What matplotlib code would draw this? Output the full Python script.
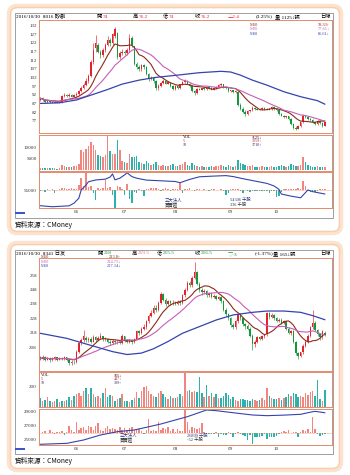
import matplotlib
matplotlib.use("Agg")
import matplotlib.pyplot as plt
from matplotlib.patches import FancyBboxPatch, Rectangle
import numpy as np
import pandas as pd

plt.rcParams['font.family'] = ['Liberation Serif', 'Noto Sans CJK TC', 'DejaVu Sans']

W, H = 350, 475
UP, DN = '#e3232b', '#16963a'
VUP, VDN = '#f3857f', '#2ab2ab'
C10, C20, C60 = '#8c2b18', '#c65fb6', '#3444ad'
EDGE = '#e48c6e'
NAVY = '#23307a'
PINK = '#e0707e'

months = ['06', '07', '08', '09', '10']
month_idx = [15, 35, 56, 79, 98]

# ---------------- 8016 矽創 ----------------
a_open = [89, 90, 89, 88, 88.5, 88, 87.5, 88, 87.5, 88,
          91.5, 92, 91.5, 92, 91, 92, 92.5, 94, 96, 97.5,
          100, 103, 111, 119, 121, 117, 115, 118, 121, 124,
          122, 126, 128, 114, 116, 117, 116, 118, 125, 120,
          110, 108, 107, 109, 108, 104, 101, 102, 100, 96,
          97, 99, 100, 98.5, 99, 97, 95.5, 97, 96, 98,
          99.5, 100, 98.5, 97, 94, 93, 95.5, 95, 96, 95.5,
          96.5, 96, 95, 96, 96.5, 97.5, 98, 96.5, 96, 94,
          94.5, 93.5, 93.5, 86, 84, 82, 81, 82.5, 83, 84.5,
          84, 83.5, 84, 84.5, 84, 83.5, 84, 85, 84, 83,
          81, 80, 79, 79.5, 78, 75, 73, 72.5, 74, 76,
          80, 79, 78, 77.5, 76, 75, 77, 75.5, 74]
a_close = [90, 89, 88, 88.5, 88, 87.5, 88, 87.5, 88, 91.5,
           92, 91.5, 92, 91, 92, 92.5, 94, 96, 97.5, 100,
           103, 111, 118, 122, 117, 115, 118, 121, 124, 122,
           127, 130, 114, 116, 117, 116, 118, 125, 121, 110,
           108, 107, 109, 108, 104, 101, 102, 100, 96, 97,
           99, 100, 98.5, 99.5, 97, 95.5, 97, 96, 98, 99.5,
           100, 98.5, 97, 94, 93, 95.5, 95, 96, 95.5, 96.5,
           96, 95, 96, 96.5, 97.5, 98, 96.5, 96, 94, 94.5,
           93.5, 94, 86, 84, 82, 81, 82.5, 83, 84.5, 84,
           83.5, 84, 84.5, 84, 83.5, 84, 85, 84, 83, 81,
           80, 79, 79.5, 78, 75, 73, 72.5, 74, 76, 80,
           79, 78, 77.5, 76, 75, 77, 75.5, 73.8, 76.2]
a_high = [90.5, 90.5, 89.5, 89, 89, 88.5, 88.5, 88.5, 88.5, 92,
          93, 92.5, 93, 92.5, 92.5, 93.5, 95, 97, 99, 101.5,
          104, 112, 122, 126.5, 122, 118, 119, 122, 126, 125,
          128, 131.5, 128.5, 117.5, 118.5, 118, 119, 127, 126, 120.5,
          111, 109, 110, 110, 108.5, 104.5, 103, 102.5, 100.5, 98,
          99.5, 101, 100.5, 100, 99.5, 97.5, 97.5, 97.5, 98.5, 100,
          101, 100.5, 99, 97.5, 94.5, 96, 96, 96.5, 96.5, 97,
          97, 96.5, 96.5, 97, 98, 99, 98.5, 97, 96.5, 95,
          95, 94.5, 94, 87, 85, 83, 83, 83.5, 85.5, 85,
          84.5, 84.5, 85, 85, 84.5, 84.5, 85.5, 85.5, 84.5, 83.5,
          81.5, 80.5, 80, 80, 78.5, 75.5, 74, 74.5, 76.5, 81,
          80.5, 79.5, 78.5, 78, 76.5, 77.5, 77.5, 76, 76.2]
a_low = [88.5, 88.5, 87.5, 87.5, 87.5, 87, 87, 87, 87, 87.5,
         91, 91, 91, 90.5, 90.5, 91.5, 92, 93.5, 95.5, 97,
         99, 102.5, 110, 117, 116, 113.5, 114, 117, 120, 120.5,
         121, 125, 113, 113, 115, 115, 115, 117, 119.5, 109,
         107, 105.5, 106, 107, 103.5, 100, 100.5, 99, 95, 95,
         96.5, 98.5, 98, 98, 96.5, 94.5, 95, 95.5, 95.5, 97.5,
         99, 98, 96.5, 93.5, 92, 92.5, 94.5, 94.5, 95, 95,
         95.5, 94.5, 94.5, 95.5, 96, 97, 96, 95.5, 93.5, 93.5,
         93, 93, 85.5, 83, 81.5, 80, 80.5, 82, 82.5, 83.5,
         83, 83, 83.5, 83.5, 83, 83, 83.5, 83.5, 82.5, 80.5,
         79.5, 78.5, 78.5, 77.5, 74.5, 72, 71.5, 72, 73.5, 75.5,
         78.5, 77.5, 77, 75.5, 74.5, 74.5, 75, 73.5, 74]
a_ma60_idx = [0, 8, 15, 21, 28, 34, 41, 48, 57, 66, 75, 79, 83, 88, 94, 101, 108, 115, 118]
a_ma60 = [87.0, 87.4, 89.0, 91.8, 95.1, 98.2, 100.5, 102.1, 103.4, 104.8,
          105.6, 105.2, 103.4, 100.5, 97.6, 93.8, 90.9, 88.6, 86.6]
a_vol = [800, 600, 500, 700, 500, 600, 500, 400, 600, 2200,
         1500, 1200, 1300, 1000, 1400, 1600, 2500, 8800, 8000, 9500,
         10500, 12500, 11000, 9000, 6500, 6000, 5500, 6500, 15000, 8500,
         7000, 7000, 13500, 9000, 4000, 3500, 3000, 7000, 5500, 5500,
         6000, 3500, 3000, 2500, 4000, 3000, 2000, 2500, 3500, 2000,
         1800, 2000, 1500, 1800, 2200, 2500, 1800, 1500, 2000, 2500,
         3500, 2000, 1800, 3000, 2000, 1500, 1200, 1500, 1000, 1300,
         1100, 1400, 1200, 1500, 1800, 2000, 1500, 1300, 2000, 1500,
         1200, 1400, 4500, 3000, 2500, 2000, 1800, 1500, 2000, 1300,
         1200, 1000, 1400, 1200, 1000, 1300, 1500, 1200, 1000, 1800,
         2000, 1500, 1200, 1400, 2500, 2200, 1800, 1500, 2000, 5800,
         3500, 2000, 1500, 1300, 1200, 1600, 1300, 1100, 1125]
a_net = [-600, 200, -800, 300, 100, 600, -1500, 200, 300, 800,
         1200, 400, 600, 1000, 300, 500, 2500, 5800, 2000, 8700,
         1500, 2200, -1500, -5000, 1200, 600, 800, 5000, 1000, 1500,
         -2500, -8800, 1800, 1600, 500, -2500, 3000, -4500, -6700, -800,
         -1500, 400, -600, -3000, 300, 500, 800, 1000, 1100, 400,
         -300, 600, 800, 500, -400, 700, 300, 600, 3300, -1300,
         400, 300, 900, 200, -400, 500, 300, -200, 400, 200,
         -300, 300, 500, -200, 100, 300, -600, -2500, -1300, 600,
         700, 400, 300, -700, -1700, 200, -500, -800, -600, -400,
         -700, -300, -600, -500, -400, -1300, -500, -600, -3700, -2800,
         -800, 400, 600, 700, 500, 600, 300, 800, 500, 4700,
         1800, -400, -800, -900, -1000, -700, 300, 400, 336]
a_hold_idx = [0, 5, 12, 14, 16, 17, 19, 20, 23, 27, 29, 30, 31, 33, 35, 36, 38, 40, 44, 50,
              56, 58, 62, 66, 72, 77, 80, 84, 90, 94, 97, 99, 100, 104, 108, 109, 111, 113, 118]
a_hold = [49350, 48900, 49300, 50400, 52500, 56000, 58100, 59500, 60250, 60600,
          61500, 62800, 60300, 61000, 62400, 63300, 61700, 61000, 60200, 59900,
          59600, 59100, 60500, 61600, 61900, 62100, 61700, 60800, 59600, 58800,
          57700, 56300, 54300, 53400, 52700, 53800, 56000, 55300, 54300]
a_header = [(16, '2016/10/30  8016 矽創', 'k'), (97, '開', 'k'), (103, '74', UP),
            (133, '高', 'k'), (139, '76.2', UP), (163, '低', 'k'), (169, '74', UP),
            (195, '收', 'k'), (201, '76.2', UP), (228, '△2.4', UP),
            (256, '(3.25%)', 'k'), (275, '量 1125↓張', 'k')]
a_ma_text = ['78.33↑', '77.61↓', '86.61↓']
a_vol_text = ['1125↓', '3059↑', '1710↑']
a_inst_text = ['54306 千股', '336 千股']

# ---------------- 8341 日友 ----------------
b_open = [201, 200, 201.5, 199.5, 200.5, 199, 200, 201, 199.5, 200.5,
          200, 201, 199.5, 197, 198, 197.5, 205, 211, 213, 214.5,
          213, 214, 212, 215, 213, 214.5, 215.5, 213.5, 214, 212,
          211, 212.5, 211.5, 212, 211, 215.5, 213, 212, 213, 211.5,
          213.5, 219, 218, 221, 222, 226, 230, 232, 235.5, 234,
          239, 245, 241, 238, 240, 238.5, 239, 238, 239.5, 238.5,
          244, 248, 252.5, 251, 256, 260, 252, 248, 246, 247,
          244, 245.5, 243, 243.5, 241.5, 242.5, 240, 234, 231, 228,
          223.5, 222, 226, 231, 228, 224, 222.5, 221, 216, 210,
          212, 215, 214, 215.5, 217, 231.5, 229, 230.5, 228, 226.5,
          227, 225, 226, 221, 218, 219, 212, 204, 202, 204.5,
          209, 212, 216, 222, 225, 220, 217, 215, 218]
b_close = [200, 201.5, 199.5, 200.5, 199, 200, 201, 199.5, 200.5, 200,
           201, 199.5, 197, 198, 197.5, 205, 211, 213, 215.5, 213,
           214, 212, 215, 213, 214.5, 215.5, 213.5, 214, 212, 211,
           212.5, 211.5, 212, 211, 216, 213, 212, 213, 211.5, 213.5,
           219, 218, 221, 222, 226, 230, 232, 235.5, 234, 239,
           245, 241, 238, 240, 238.5, 239, 238, 239.5, 238.5, 244,
           248, 252.5, 251, 256, 260, 252, 248, 246, 247, 244,
           245.5, 243, 243.5, 241.5, 242.5, 240, 234, 231, 228, 223.5,
           222, 226, 231, 228, 224, 222.5, 221, 216, 210, 212,
           215, 214, 215.5, 216.5, 231.5, 229, 230.5, 228, 226.5, 227,
           225, 226, 221, 218, 219, 212, 204, 202, 204.5, 209,
           212, 216, 222, 225, 220, 217, 215, 219.5, 216.5]
b_high = [202, 202.5, 202, 201.5, 201, 201, 202, 201.5, 201.5, 201.5,
          202, 201.5, 200, 199, 199, 206, 212, 214.5, 220, 216,
          215, 215, 216.5, 216, 215.5, 218, 216, 215, 214.5, 213,
          213.5, 213, 213, 213, 217, 216, 214, 214, 214, 214.5,
          220, 220, 222, 224, 227, 231, 233.5, 237, 237, 240,
          246.5, 245.5, 242, 241, 241, 240.5, 240, 241, 241, 245,
          249, 254, 254, 257, 267, 261, 253, 249, 248.5, 248,
          246.5, 246, 245, 244.5, 243.5, 243.5, 241, 235, 232, 229,
          225, 227, 232, 232, 229, 225, 224, 222, 217, 213,
          216, 216, 216.5, 217.5, 232.5, 232.5, 231.5, 231, 229, 228,
          228, 227, 226.5, 222, 220, 220, 212.5, 205, 205, 210,
          213, 217, 223, 234, 226, 221, 218, 220, 219.5]
b_low = [199, 199.5, 198.5, 199, 198, 198.5, 199.5, 198.5, 199, 199,
         199, 198.5, 195.5, 196, 196.5, 197, 204, 209.5, 212, 212,
         212, 211, 211.5, 212, 212.5, 213.5, 212.5, 212.5, 211, 209.5,
         210, 210.5, 210.5, 210, 210.5, 212, 211, 211, 210.5, 211,
         213, 216.5, 217, 220, 221, 225, 229, 231, 232.5, 233,
         238, 240, 236.5, 237, 237.5, 237.5, 237, 237, 237.5, 238,
         243, 247, 249.5, 250, 255, 251, 246, 244.5, 245, 243,
         243, 242, 242, 240.5, 240.5, 239, 233, 230, 227, 222,
         221, 221, 225, 227, 223, 221, 220, 215, 206, 208,
         211, 213, 213, 214.5, 216, 227.5, 228, 227, 225.5, 225.5,
         224, 224, 220, 217, 216.5, 211, 203, 200, 201, 203.5,
         208, 211, 215, 221, 219, 216, 213, 214, 215.5]
b_ma60_idx = [0, 11, 18, 25, 30, 36, 42, 47, 53, 59, 66, 73, 80, 88, 94, 101, 108, 113, 118]
b_ma60 = [217.7, 214.2, 210.8, 207.4, 205.0, 203.0, 204.0, 207.0, 212.0, 217.7,
          222.3, 226.9, 230.4, 232.2, 233.1, 233.1, 232.2, 229.9, 227.1]
b_vol = [85, 60, 70, 95, 55, 50, 60, 80, 45, 55,
         60, 70, 95, 65, 110, 120, 130, 110, 150, 185,
         120, 180, 120, 100, 110, 85, 130, 185, 95, 115,
         110, 60, 75, 90, 120, 60, 55, 50, 70, 90,
         140, 85, 150, 190, 205, 150, 120, 110, 95, 130,
         150, 120, 100, 80, 110, 90, 85, 100, 120, 110,
         330, 150, 160, 140, 150, 145, 290, 130, 100, 210,
         110, 130, 95, 120, 85, 90, 110, 130, 115, 80,
         95, 70, 60, 75, 80, 65, 70, 60, 80, 70,
         60, 65, 90, 70, 185, 110, 90, 80, 75, 90,
         70, 85, 95, 120, 110, 130, 120, 100, 110, 95,
         130, 115, 140, 150, 110, 260, 75, 60, 165]
b_net = [0, 40, 100, -30, 130, 20, -70, 30, 60, 100,
         -120, 40, 330, 130, 60, 550, 120, 220, 270, 150,
         330, 300, 120, 330, 500, 150, 90, 220, 330, 180,
         250, 200, 130, 300, 160, 220, 140, 250, 300, 120,
         180, 170, 90, -50, 120, 670, 100, 120, 90, 550,
         150, 220, 200, 270, 80, 170, 60, 170, 90, 100,
         1130, 550, 150, 300, 230, 170, 250, 470, 40, -70,
         -60, -80, -70, 30, -230, -40, -90, -120, 20, -60,
         -200, -40, 30, -70, -90, -160, -370, -100, -570, -230,
         -200, -230, -180, -60, -330, -230, -200, -230, -150, -50,
         60, 100, 40, 130, -30, 50, 30, -230, 60, 130,
         80, 170, 60, 800, 170, -40, -170, -100, -52]
b_hold_idx = [0, 11, 18, 25, 32, 39, 44, 50, 55, 61, 65, 69, 73, 80, 88, 94, 101, 108, 113, 114, 118]
b_hold = [24240, 24380, 24870, 25600, 26080, 26330, 26720, 27200, 27690, 28270,
          28760, 29250, 29150, 28850, 28520, 28420, 28500, 28620, 29000, 29050, 28850]
b_header = [(16, '2016/10/30  8341 日友', 'k'), (98, '開', 'k'), (104, '218', DN),
            (132, '高', 'k'), (138, '219.5', PINK), (157, '低', 'k'), (163, '215.5', DN),
            (195, '收', 'k'), (201, '216.5', DN), (228, '▽-3', DN),
            (255, '(-1.37%)', 'k'), (273, '量 165↓張', 'k')]
b_ma_text = ['213.8↑', '214.75↓', '227.14↓']
b_vol_text = ['165↓', '447↓', '389↑']
b_inst_text = ['26899 千股', '-52 千股']

fig = plt.figure(figsize=(W / 100, H / 100), dpi=100)
bg = fig.add_axes([0, 0, 1, 1])
bg.set_xlim(0, W)
bg.set_ylim(H, 0)
bg.axis('off')


def rect(x0, y0, x1, y1):
    return [x0 / W, 1 - y1 / H, (x1 - x0) / W, (y1 - y0) / H]


def style_spines(ax):
    for s in ax.spines.values():
        s.set_color(EDGE)
        s.set_linewidth(0.7)


def new_panel(y0, y1):
    ax = fig.add_axes(rect(39, y0, 332, y1))
    ax.set_facecolor('none')
    ax.set_xlim(-0.5, 121)
    ax.set_xticks([])
    style_spines(ax)
    ax.tick_params(axis='y', length=0, pad=1.5, labelsize=3.6, colors='#333333')
    return ax


def draw_chart(rows, o, h, l, c, ma_i, ma_v, vol, net, hold_i, hold_v,
               plim, pticks, vlim, vticks, nlim, hlim, hticks):
    (p0, p1), (v0, v1), (n0, n1) = rows
    o, h, l, c = (np.asarray(a, dtype=float) for a in (o, h, l, c))
    x = np.arange(len(c))
    up = c >= o
    col = np.where(up, UP, DN)

    ax = new_panel(p0, p1)
    ax.vlines(x, l, h, colors=col, lw=0.45)
    ax.bar(x, np.maximum(np.abs(c - o), (plim[1] - plim[0]) * 0.005),
           bottom=np.minimum(o, c), width=0.62, color=col, lw=0)
    close = pd.Series(c)
    ax.plot(x, close.rolling(10, min_periods=1).mean(), color=C10, lw=0.8)
    ax.plot(x, close.rolling(20, min_periods=1).mean(), color=C20, lw=0.8)
    ax.plot(ma_i, ma_v, color=C60, lw=0.9)
    ax.set_ylim(plim)
    ax.set_yticks(pticks, [str(t) for t in pticks])

    axv = new_panel(v0, v1)
    axv.bar(x, vol, width=0.62, color=np.where(up, VUP, VDN), lw=0)
    axv.set_ylim(vlim)
    axv.set_yticks(vticks, [str(t) for t in vticks])

    axn = new_panel(n0, n1)
    net = np.asarray(net)
    axn.bar(x, net, width=0.62, color=np.where(net >= 0, VUP, VDN), lw=0)
    axn.axhline(0, color=EDGE, lw=0.5, ls=(0, (1, 1)))
    axn.set_ylim(nlim)
    axn.set_yticks([])
    axn.set_xticks(month_idx, months)
    axn.tick_params(axis='x', length=0, pad=1.5, labelsize=3.6, colors='#333333')

    axh = axn.twinx()
    axh.plot(hold_i, hold_v, color=C60, lw=0.8)
    axh.yaxis.tick_left()
    axh.set_ylim(hlim)
    axh.set_yticks(hticks, [str(t) for t in hticks])
    axh.tick_params(axis='y', length=0, pad=1.5, labelsize=3.6, colors='#333333')
    style_spines(axh)


# background boxes and frames
for y0, y1 in [(6, 233), (243, 470)]:
    bg.add_patch(FancyBboxPatch((9, y0), 332, y1 - y0,
                                boxstyle='round,pad=0,rounding_size=8',
                                fc='white', ec='#fce3cf', lw=3.2))
    bg.add_patch(FancyBboxPatch((10.5, y0 + 1.5), 329, y1 - y0 - 3,
                                boxstyle='round,pad=0,rounding_size=7',
                                fc='none', ec='#f8cfae', lw=1.0))
for y0, y1 in [(13, 218), (250, 454)]:
    bg.add_patch(Rectangle((15, y0), 318, y1 - y0, fill=False, ec='#8f8f8f', lw=0.6))
    bg.add_patch(Rectangle((15, y1 - 6.5), 10, 2.5, color='#3a56c8', lw=0))

draw_chart([(20, 133), (135, 171), (172, 208)],
           a_open, a_high, a_low, a_close, a_ma60_idx, a_ma60,
           a_vol, a_net, a_hold_idx, a_hold,
           (69.9, 135.3), list(range(77, 133, 5)), (-680, 15680), [5000, 10000],
           (-9000, 9000), (48370, 63630), [56000])
draw_chart([(258, 371), (372, 407), (409, 445)],
           b_open, b_high, b_low, b_close, b_ma60_idx, b_ma60,
           b_vol, b_net, b_hold_idx, b_hold,
           (191.6, 269.8), list(range(208, 259, 10)), (0, 335), [200],
           (-615, 1185), (24138, 29394), [25000, 27000, 29000])

ov = fig.add_axes([0, 0, 1, 1])
ov.set_xlim(0, W)
ov.set_ylim(H, 0)
ov.axis('off')


def txt(x, y, s, color='k', size=3.8, ha='left', **kw):
    ov.text(x, y, s, color=color, fontsize=size, ha=ha, va='center', **kw)


def labels(top, header, ma_text, ma_pos, vol_text, vol_pos, inst_text, inst_pos, src_y):
    for x, s, col in header:
        txt(x, top, s, col)
    txt(331, top, '日線', ha='right')
    mx, mxr, my = ma_pos
    for k, (name, col) in enumerate([('M10', C10), ('M20', C20), ('M60', C60)]):
        txt(mx, my + 4.6 * k, name, col, 3.2)
        txt(mxr, my + 4.6 * k, ma_text[k], col, 3.2, ha='right')
    vx, vxr, vy = vol_pos
    for k, (name, col) in enumerate([('VOL', 'k'), ('5', UP), ('10', NAVY)]):
        txt(vx, vy + 3.6 * k, name, col, 3.0)
        txt(vxr, vy + 3.6 * k, vol_text[k], col, 3.0, ha='right')
    ix, ix2, iy = inst_pos
    txt(ix, iy, '三大法人', NAVY, 3.2)
    txt(ix, iy + 4.5, '買賣超', '#333333', 3.2)
    txt(ix2, iy, inst_text[0], NAVY, 3.2)
    txt(ix2, iy + 4.5, inst_text[1], '#333333', 3.2)
    ov.text(15, src_y, '資料來源：CMoney', fontsize=4.8, va='center',
            family=['Noto Sans CJK TC', 'DejaVu Sans'], color='#111111')


labels(16.5, a_header, a_ma_text, (250, 330, 24.5), a_vol_text, (183, 262, 137.5),
       a_inst_text, (165, 230, 200), 225)
labels(253.5, b_header, b_ma_text, (41, 121, 257), b_vol_text, (41, 122, 375.5),
       b_inst_text, (120, 187, 435.5), 461)

fig.savefig('out.png', dpi=100)
